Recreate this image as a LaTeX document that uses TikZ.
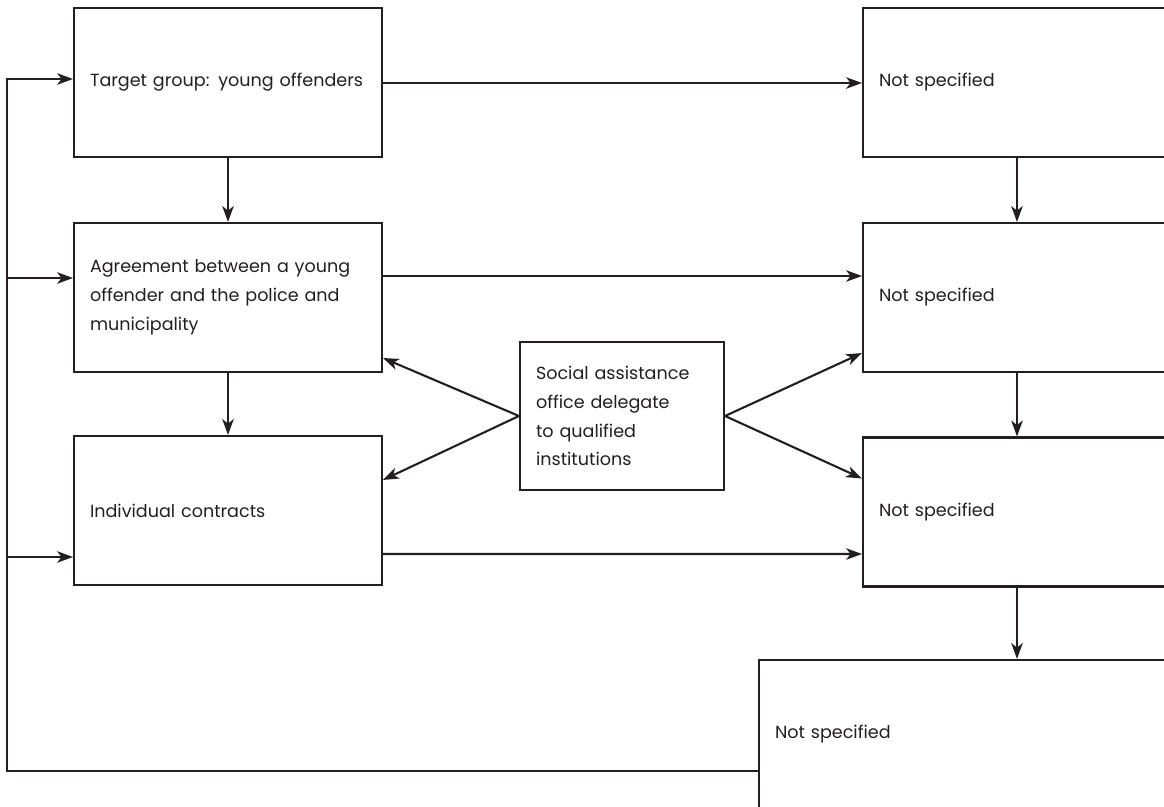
\documentclass[tikz,border=0pt]{standalone}
\usepackage{fontspec}
\setmainfont{Poppins}
\usetikzlibrary{arrows.meta, calc}
\definecolor{flowink}{RGB}{35, 31, 32}

\begin{document}
\begin{tikzpicture}[x=0.02cm, y=-0.02cm,
    >={Stealth[length=9pt, width=6.5pt, inset=2.5pt]},
    box/.style={draw=flowink, line width=1.2pt, text=flowink,
        minimum width=6.16cm, minimum height=2.98cm,
        text width=5.52cm, inner xsep=0.32cm, align=left,
        font=\fontsize{10}{16.4}\selectfont},
    note/.style={box, minimum width=4.08cm, minimum height=2.96cm, text width=3.44cm},
    link/.style={->, draw=flowink, line width=1.2pt}]

\useasboundingbox (0, 0) rectangle (1164, 807);
\clip (0, 0) rectangle (1164, 807);

% === Left column ===
\node[box] (young) at (228, 82.5) {Target group: young offenders};
\node[box] (agree) at (228, 297.5) {Agreement between a young\\offender and the police and\\municipality};
\node[box] (contr) at (228, 510.5) {Individual contracts};

% === Middle ===
\node[note] (social) at (622, 416) {Social assistance\\office delegate\\to qualified\\institutions};

% === Right column ===
\node[box] (nsA) at (1017, 82.5) {Not specified};
\node[box] (nsB) at (1017, 297.5) {Not specified};
\node[box] (nsC) at (1017, 512) {Not specified};
\node[box, minimum width=10cm, text width=9.36cm] (nsD) at (1009, 734.5) {Not specified};

% Horizontal links
\draw[link] ($(young.east)+(0, 0.5)$) -- ($(nsA.west)+(0, 0.5)$);
\draw[link] ($(agree.east)+(0, -21.5)$) -- ($(nsB.west)+(0, -21.5)$);
\draw[link] ($(contr.east)+(0, 43.5)$) -- ($(nsC.west)+(0, 42)$);

% Vertical links
\draw[link] (young) -- (agree);
\draw[link] (agree) -- (contr);
\draw[link] (nsA) -- (nsB);
\draw[link] (nsB) -- (nsC);
\draw[link] (nsC.south) -- (nsC.south |- nsD.north);

% Delegation
\draw[link] (social.west) -- ($(agree.south east)+(0, -15)$);
\draw[link] (social.west) -- ($(contr.north east)+(0, 45)$);
\draw[link] (social.east) -- ($(nsB.south west)+(0, -20)$);
\draw[link] (social.east) -- ($(nsC.north west)+(0, 42)$);

% === Feedback loop ===
\draw[link] ($(nsD.west)+(0, 36.5)$) -| ($(young.west)+(-66, -3.5)$) -- ($(young.west)+(0, -3.5)$);
\draw[link] ($(agree.west)+(-66, -19.5)$) -- ($(agree.west)+(0, -19.5)$);
\draw[link] ($(contr.west)+(-66, 46.5)$) -- ($(contr.west)+(0, 46.5)$);

\end{tikzpicture}
\end{document}
